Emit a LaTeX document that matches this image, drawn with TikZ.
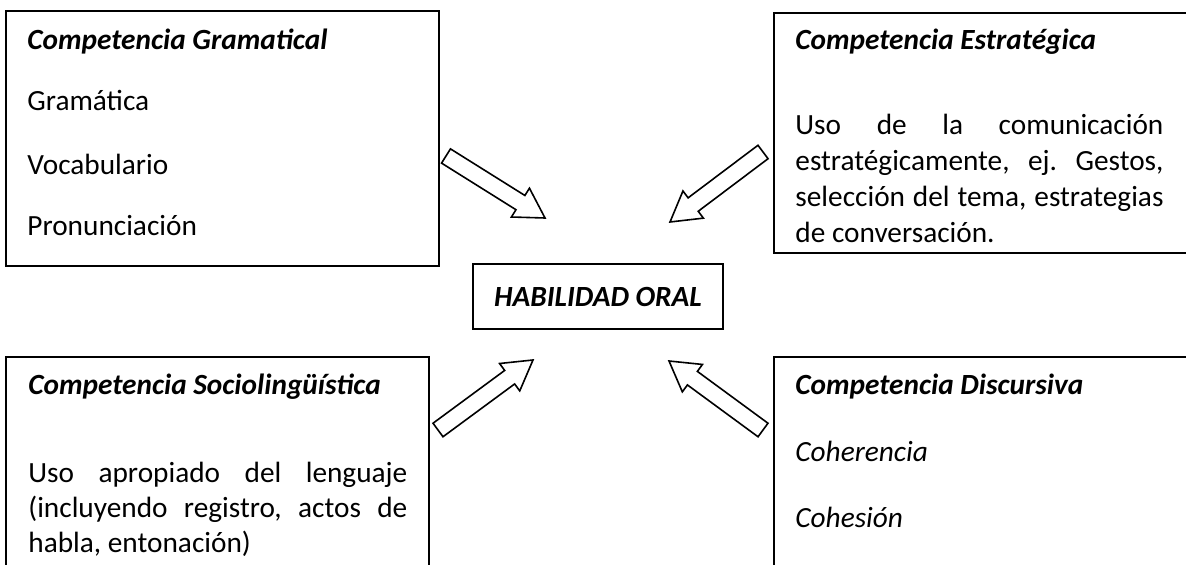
\documentclass[tikz,border=0pt]{standalone}
\usepackage{fontspec}
\setmainfont{Carlito}
\usepackage{tikz}
\usetikzlibrary{calc}
\frenchspacing
\tikzset{panel/.style={draw, line width=1pt, anchor=north west, inner sep=0pt}}
\tikzset{txt/.style={anchor=base west, inner sep=0pt, font=\fontsize{14.65}{18}\selectfont}}
\tikzset{head/.style={txt, font=\fontsize{14.65}{18}\selectfont\bfseries\itshape}}
\tikzset{barrow/.style={draw, fill=white, line width=0.8pt, line join=miter}}
\newcommand{\blockarrow}[2]{%
  \coordinate (ab) at ($(#2)!14.5pt!(#1)$);
  \draw[barrow] ($(#1)!4.2pt!90:(#2)$) -- ($(ab)!4.2pt!90:(#2)$) -- ($(ab)!8.5pt!90:(#2)$)
    -- (#2) -- ($(ab)!8.5pt!-90:(#2)$) -- ($(ab)!4.2pt!-90:(#2)$) -- ($(#1)!4.2pt!-90:(#2)$) -- cycle;}

\begin{document}
\begin{tikzpicture}[x=0.5pt, y=-0.5pt]
\path[use as bounding box] (0,0) rectangle (1186,565);
\clip (0,0) rectangle (1186,565);
%boxes
\node[panel, minimum width=216.5pt, minimum height=127.5pt] (gram) at (5,10) {};
\node[panel, minimum width=213.5pt, minimum height=120pt] (estr) at (773,12) {};
\node[panel, minimum width=211.5pt, minimum height=122pt] (socio) at (5,356) {};
\node[panel, minimum width=213.5pt, minimum height=122pt] (disc) at (773,356) {};
\node[draw, line width=1pt, minimum width=125pt, minimum height=32.5pt,
  font=\fontsize{14.65}{18}\selectfont\bfseries\itshape] (oral) at (598,296.5) {HABILIDAD ORAL};

%texts
\node[head] (gramT) at (27,50) {Competencia Gramatical};
\node[txt] (gram1) at (27,111) {Gramática};
\node[txt] (gram2) at (27,175) {Vocabulario};
\node[txt] (gram3) at (27,236) {Pronunciación};

\node[head] (estrT) at (795,50) {Competencia Estratégica};
\node[txt] (estr1) at (795,135) {\makebox[184pt][s]{Uso de la comunicación}};
\node[txt] (estr2) at (795,171) {\makebox[184pt][s]{estratégicamente, ej. Gestos,}};
\node[txt] (estr3) at (795,207) {\makebox[184pt][s]{selección del tema, estrategias}};
\node[txt] (estr4) at (795,243) {de conversación.};

\node[head] (socioT) at (28,395) {Competencia Sociolingüística};
\node[txt] (socio1) at (28,482) {\makebox[189.5pt][s]{Uso apropiado del lenguaje}};
\node[txt] (socio2) at (28,517) {\makebox[189.5pt][s]{(incluyendo registro, actos de}};
\node[txt] (socio3) at (28,552) {habla, entonación)};

\node[head] (discT) at (795,395) {Competencia Discursiva};
\node[txt, font=\fontsize{14.65}{18}\selectfont\itshape] (disc1) at (795,462) {Coherencia};
\node[txt, font=\fontsize{14.65}{18}\selectfont\itshape] (disc2) at (795,527) {Cohesión};

%arrows
\coordinate (gramTail) at (446,156);  \coordinate (gramTip) at (545,218);
\coordinate (estrTail) at (763,152);  \coordinate (estrTip) at (670,222);
\coordinate (socioTail) at (438,430); \coordinate (socioTip) at (533,360);
\coordinate (discTail) at (763,430);  \coordinate (discTip) at (669,361);
\blockarrow{gramTail}{gramTip}
\blockarrow{estrTail}{estrTip}
\blockarrow{socioTail}{socioTip}
\blockarrow{discTail}{discTip}
\end{tikzpicture}
\end{document}
